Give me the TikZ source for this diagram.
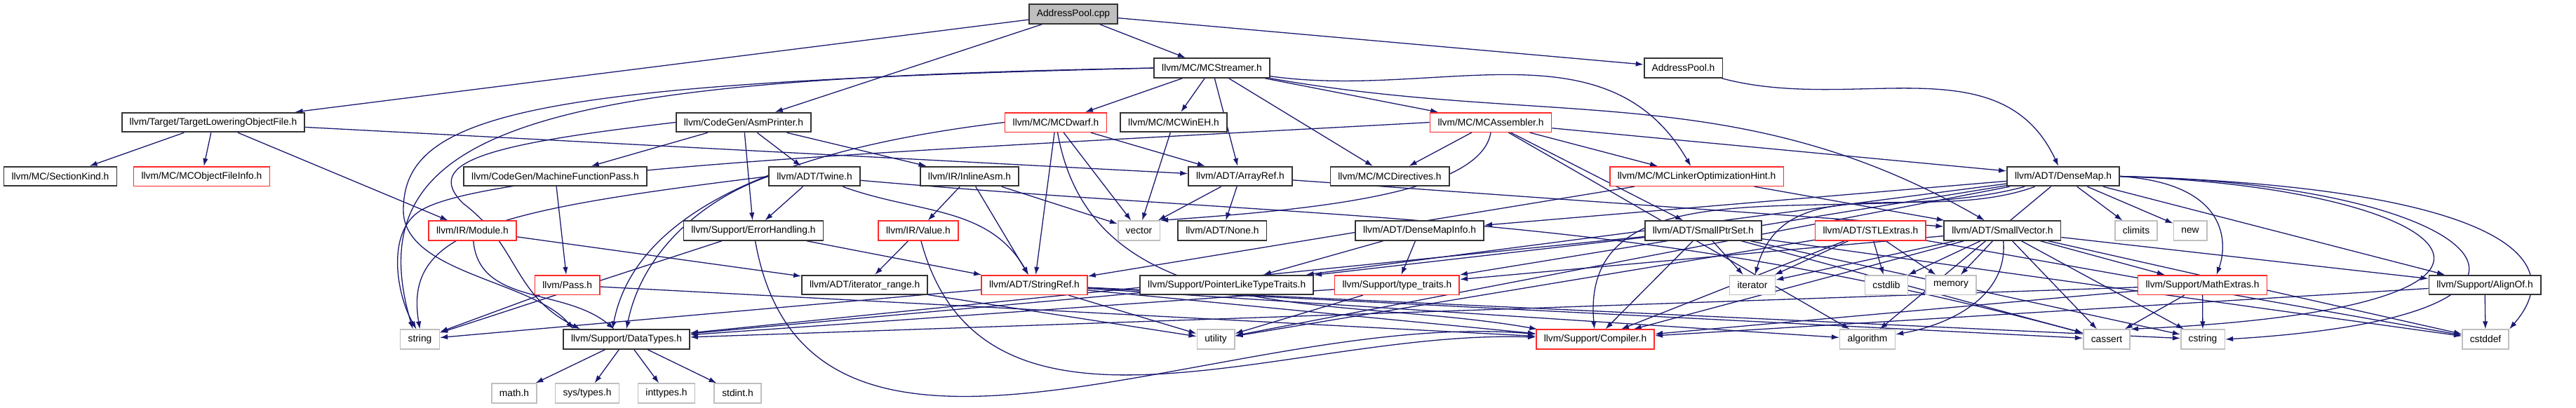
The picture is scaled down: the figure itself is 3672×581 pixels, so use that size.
\documentclass[tikz,border=0pt]{standalone}
\usepackage{fontspec}
\setmainfont{Liberation Sans}
\usetikzlibrary{arrows.meta,backgrounds}
\definecolor{edgeblue}{HTML}{191970}
\definecolor{sysgray}{HTML}{BFBFBF}
\definecolor{truncred}{HTML}{FF2A2A}
\tikzset{
  file/.style={
    draw=black!80,
    line width=0.18pt,
    fill=white,
    minimum height=2.76pt,
    inner xsep=1.1pt,
    inner ysep=0.2pt,
    font=\fontsize{1.38}{1.6}\selectfont
  },
  trunc/.style={
    file,
    draw=truncred,
    line width=0.16pt
  },
  sysfile/.style={
    file,
    draw=sysgray,
    line width=0.16pt
  },
  rootfile/.style={
    file,
    fill=sysgray
  },
  dep/.style={
    -{Latex[length=1.1pt,width=0.75pt]},
    draw=edgeblue,
    line width=0.13pt
  }
}
\begin{document}
\begin{tikzpicture}[x=0.1pt, y=0.1pt]
  \useasboundingbox (0,0) rectangle (3672,-581);
  \node[rootfile] (root) at (1530,-20) {AddressPool.cpp};
  \node[file] (mcstreamer) at (1727.5,-97) {llvm/MC/MCStreamer.h};
  \node[file] (addrpool) at (2399.5,-97) {AddressPool.h};
  \node[file] (tlof) at (304,-174.5) {llvm/Target/TargetLoweringObjectFile.h};
  \node[file] (asmprinter) at (1060,-174.5) {llvm/CodeGen/AsmPrinter.h};
  \node[trunc] (mcdwarf) at (1505,-174.5) {llvm/MC/MCDwarf.h};
  \node[file] (mcwineh) at (1673,-174.5) {llvm/MC/MCWinEH.h};
  \node[trunc] (mcassembler) at (2125,-174.5) {llvm/MC/MCAssembler.h};
  \node[file] (sectionkind) at (86,-251.5) {llvm/MC/SectionKind.h};
  \node[trunc] (objfileinfo) at (287.5,-251.5) {llvm/MC/MCObjectFileInfo.h};
  \node[file] (mfpass) at (791.5,-251.5) {llvm/CodeGen/MachineFunctionPass.h};
  \node[file] (twine) at (1161,-251.5) {llvm/ADT/Twine.h};
  \node[file] (inlineasm) at (1382,-251.5) {llvm/IR/InlineAsm.h};
  \node[file] (arrayref) at (1768,-251.5) {llvm/ADT/ArrayRef.h};
  \node[file] (directives) at (1981,-251.5) {llvm/MC/MCDirectives.h};
  \node[trunc] (lohint) at (2418.6,-251.5) {llvm/MC/MCLinkerOptimizationHint.h};
  \node[file] (densemap) at (2941,-251.5) {llvm/ADT/DenseMap.h};
  \node[trunc] (module) at (673.5,-329) {llvm/IR/Module.h};
  \node[file] (errhandling) at (1074,-329) {llvm/Support/ErrorHandling.h};
  \node[trunc] (value) at (1309,-329) {llvm/IR/Value.h};
  \node[sysfile] (vector) at (1623.5,-329) {vector};
  \node[file] (none) at (1742.4,-329) {llvm/ADT/None.h};
  \node[file] (densemapinfo) at (2023.6,-329) {llvm/ADT/DenseMapInfo.h};
  \node[file] (smallptrset) at (2427.8,-329) {llvm/ADT/SmallPtrSet.h};
  \node[trunc] (stlextras) at (2666.4,-329) {llvm/ADT/STLExtras.h};
  \node[file] (smallvector) at (2854.4,-329) {llvm/ADT/SmallVector.h};
  \node[sysfile] (climits) at (3045,-329) {climits};
  \node[sysfile] (new) at (3122,-329) {new};
  \node[trunc] (pass) at (808.7,-406.5) {llvm/Pass.h};
  \node[file] (iterrange) at (1232.6,-406.5) {llvm/ADT/iterator\_range.h};
  \node[trunc] (stringref) at (1474.5,-406.5) {llvm/ADT/StringRef.h};
  \node[file] (ptrtraits) at (1748.7,-406.5) {llvm/Support/PointerLikeTypeTraits.h};
  \node[trunc] (typetraits) at (1991.4,-406.5) {llvm/Support/type\_traits.h};
  \node[sysfile] (iterator) at (2498,-406.5) {iterator};
  \node[sysfile] (cstdlib) at (2689,-406.5) {cstdlib};
  \node[sysfile] (memory) at (2781,-406.5) {memory};
  \node[trunc] (mathextras) at (3139.5,-406.5) {llvm/Support/MathExtras.h};
  \node[file] (alignof) at (3542,-406.5) {llvm/Support/AlignOf.h};
  \node[sysfile] (string) at (598.5,-484) {string};
  \node[file] (datatypes) at (893,-484) {llvm/Support/DataTypes.h};
  \node[sysfile] (utility) at (1733,-484) {utility};
  \node[trunc] (compiler) at (2274,-484) {llvm/Support/Compiler.h};
  \node[sysfile] (algorithm) at (2662,-484) {algorithm};
  \node[sysfile] (cassert) at (3003,-484) {cassert};
  \node[sysfile] (cstring) at (3140,-484) {cstring};
  \node[sysfile] (cstddef) at (3543,-484) {cstddef};
  \node[sysfile] (mathh) at (733,-561) {math.h};
  \node[sysfile] (systypes) at (837,-561) {sys/types.h};
  \node[sysfile] (inttypes) at (950,-561) {inttypes.h};
  \node[sysfile] (stdint) at (1051.5,-561) {stdint.h};

  \begin{scope}[on background layer]
  \draw[dep] (root) -- (tlof);
  \draw[dep] (root) -- (asmprinter);
  \draw[dep] (root) -- (mcstreamer);
  \draw[dep] (root) -- (addrpool);
  \draw[dep] (addrpool) to[out=-15, in=115] (densemap);
  \draw[dep] (mcstreamer.west) .. controls (800,-112) and (500,-170) .. ([xshift=-1pt]string.north);
  \draw[dep] (mcstreamer.west) .. controls (760,-118) and (575,-160) .. (575,-300) .. controls (575,-390) and (760,-400) .. ([xshift=1.5pt]datatypes.north west);
  \draw[dep] (mcstreamer) -- (mcdwarf);
  \draw[dep] (mcstreamer) -- (mcwineh);
  \draw[dep] (mcstreamer) -- (arrayref);
  \draw[dep] (mcstreamer) -- (directives);
  \draw[dep] (mcstreamer) -- (mcassembler);
  \draw[dep] (mcstreamer) to[out=-8, in=120] (lohint);
  \draw[dep] (mcstreamer) to[out=-10, in=150] (smallvector);
  \draw[dep] (tlof) -- (sectionkind);
  \draw[dep] (tlof) -- (objfileinfo);
  \draw[dep] (tlof) -- (module);
  \draw[dep] (tlof) -- (arrayref);
  \draw[dep] (asmprinter) -- (mfpass);
  \draw[dep] (asmprinter) -- (twine);
  \draw[dep] (asmprinter) -- (inlineasm);
  \draw[dep] (asmprinter) -- (errhandling);
  \draw[dep] (asmprinter.west) .. controls (700,-205) and (600,-230) .. (660,-290) .. controls (740,-350) and (730,-420) .. ([xshift=2.5pt]datatypes.north west);
  \draw[dep] (mfpass) -- (pass);
  \draw[dep] (twine) -- (errhandling);
  \draw[dep] (twine.west) .. controls (700,-300) and (575,-330) .. (string.north);
  \draw[dep] (twine.west) .. controls (1000,-285) and (915,-360) .. (datatypes.north);
  \draw[dep] (twine) to[out=-20, in=120] (stringref);
  \draw[dep] (twine) to[out=-5, in=165] (cassert);
  \draw[dep] (inlineasm) -- (value);
  \draw[dep] (inlineasm) -- (stringref);
  \draw[dep] (inlineasm) -- (vector);
  \draw[dep] (mcdwarf.west) .. controls (1050,-220) and (900,-330) .. ([xshift=-2pt]datatypes.north);
  \draw[dep] (mcdwarf) -- (arrayref);
  \draw[dep] (mcdwarf) -- (vector);
  \draw[dep] (mcdwarf) -- (stringref);
  \draw[dep] (mcdwarf) to[out=-80, in=170] (compiler);
  \draw[dep] (mcwineh) -- (vector);
  \draw[dep] (mcassembler) -- (directives);
  \draw[dep] (mcassembler) -- (lohint);
  \draw[dep] (mcassembler) -- (densemap);
  \draw[dep] (mcassembler) -- (smallptrset);
  \draw[dep] (mcassembler) -- (algorithm);
  \draw[dep] (mcassembler.west) .. controls (1300,-215) and (700,-240) .. (600,-300) .. controls (550,-330) and (565,-420) .. ([xshift=-0.5pt]string.north);
  \draw[dep] (mcassembler.south) .. controls (2110,-280) and (1850,-300) .. (vector.north east);
  \draw[dep] (lohint) -- (smallvector);
  \draw[dep] (lohint) -- (stringref);
  \draw[dep] (arrayref) -- (vector);
  \draw[dep] (arrayref) -- (none);
  \draw[dep] (arrayref) -- (smallvector);
  \draw[dep] (densemap) -- (densemapinfo);
  \draw[dep] (densemap) -- (ptrtraits);
  \draw[dep] (densemap) -- (typetraits);
  \draw[dep] (densemap) to[out=195, in=95] (compiler);
  \draw[dep] (densemap) -- (utility);
  \draw[dep] (densemap) to[out=200, in=75] (iterator);
  \draw[dep] (densemap) -- (algorithm);
  \draw[dep] (densemap) -- (climits);
  \draw[dep] (densemap) -- (new);
  \draw[dep] (densemap.east) .. controls (3180,-262) and (3175,-350) .. ([xshift=2pt]mathextras.north);
  \draw[dep] (densemap) -- (alignof);
  \draw[dep] (densemap.east) .. controls (3520,-268) and (3700,-440) .. (cassert.north east);
  \draw[dep] (densemap.east) .. controls (3550,-262) and (3740,-450) .. (cstring.east);
  \draw[dep] (densemap.east) .. controls (3500,-265) and (3680,-350) .. (cstddef.north east);
  \draw[dep] (module) -- (iterrange);
  \draw[dep] (module) to[out=-85, in=140] (datatypes);
  \draw[dep] (errhandling) -- (string);
  \draw[dep] (errhandling) -- (stringref);
  \draw[dep] (errhandling) to[out=-80, in=175] (compiler);
  \draw[dep] (value) -- (iterrange);
  \draw[dep] (value) to[out=-75, in=178] (compiler);
  \draw[dep] (densemapinfo) -- (ptrtraits);
  \draw[dep] (densemapinfo) -- (typetraits);
  \draw[dep] (smallptrset) -- (compiler);
  \draw[dep] (smallptrset) -- (datatypes);
  \draw[dep] (smallptrset) -- (ptrtraits);
  \draw[dep] (smallptrset) -- (iterator);
  \draw[dep] (smallptrset) -- (cassert);
  \draw[dep] (smallptrset) -- (cstring);
  \draw[dep] (smallptrset) -- (cstddef);
  \draw[dep] (stlextras) -- (compiler);
  \draw[dep] (stlextras) -- (utility);
  \draw[dep] (stlextras) -- (iterator);
  \draw[dep] (stlextras) -- (cstdlib);
  \draw[dep] (stlextras) -- (memory);
  \draw[dep] (stlextras) -- (cstddef);
  \draw[dep] (smallvector) -- (typetraits);
  \draw[dep] (smallvector) -- (compiler);
  \draw[dep] (smallvector) -- (iterator);
  \draw[dep] (smallvector) -- (cstdlib);
  \draw[dep] (smallvector) -- (memory);
  \draw[dep] (smallvector) to[out=-85, in=10] (algorithm);
  \draw[dep] (smallvector) -- (cassert);
  \draw[dep] (smallvector) -- (mathextras);
  \draw[dep] (smallvector) -- (alignof);
  \draw[dep] (smallvector) -- (cstring);
  \draw[dep] (smallvector) -- (cstddef);
  \draw[dep] (pass) -- (string);
  \draw[dep] (pass) -- (compiler);
  \draw[dep] (iterrange) -- (utility);
  \draw[dep] (stringref) -- (compiler);
  \draw[dep] (stringref) -- (utility);
  \draw[dep] (stringref) -- (string);
  \draw[dep] (stringref) -- (algorithm);
  \draw[dep] (stringref) -- (cassert);
  \draw[dep] (stringref) -- (cstring);
  \draw[dep] (ptrtraits) -- (datatypes);
  \draw[dep] (typetraits) -- (utility);
  \draw[dep] (typetraits) -- (datatypes);
  \draw[dep] (mathextras) -- (compiler);
  \draw[dep] (mathextras) -- (datatypes);
  \draw[dep] (mathextras) -- (cassert);
  \draw[dep] (mathextras) -- (cstring);
  \draw[dep] (alignof) -- (compiler);
  \draw[dep] (alignof) -- (cstddef);
  \draw[dep] (datatypes) -- (mathh);
  \draw[dep] (datatypes) -- (systypes);
  \draw[dep] (datatypes) -- (inttypes);
  \draw[dep] (datatypes) -- (stdint);
  \end{scope}
\end{tikzpicture}
\end{document}
